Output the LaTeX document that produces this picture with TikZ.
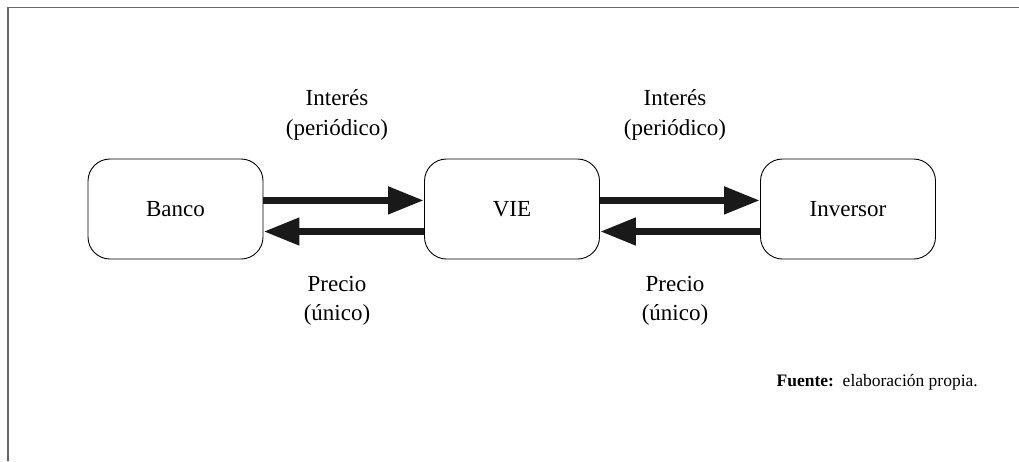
\documentclass[tikz,border=0pt]{standalone}
\usepackage{fontspec}
\setmainfont{Liberation Serif}
\usetikzlibrary{arrows.meta,positioning}

\tikzset{
  actor/.style={draw, line width=0.9pt, rounded corners=22pt,
    minimum width=175pt, minimum height=100pt, inner sep=0pt,
    font=\fontsize{23}{29}\selectfont},
  flow/.style={line width=7.5pt, draw=black!90,
    -{Triangle[length=36pt,width=26pt]}},
  tag/.style={align=center, inner sep=0pt, font=\fontsize{23}{29.5}\selectfont},
  frameline/.style={draw=black!60, line width=1.5pt}
}

\begin{document}
\begin{tikzpicture}[x=1pt,y=-1pt]
  \useasboundingbox (0,0) rectangle (1019,461);
  % frame of the figure
  \draw[frameline] (1019,7.5) -- (8,7.5) -- (8,461);

  \node[actor] (banco) at (175.5,209) {Banco};
  \node[actor] (vie) at (512,209) {VIE};
  \node[actor] (inversor) at (848,209) {Inversor};

  % interest flows (top) and price flows (bottom)
  \draw[flow] ([yshift=8.6pt]banco.east) -- ([yshift=8.6pt]vie.west);
  \draw[flow] ([yshift=-22.5pt]vie.west) -- ([yshift=-22.5pt]banco.east);
  \draw[flow] ([yshift=8.6pt]vie.east) -- ([yshift=8.6pt]inversor.west);
  \draw[flow] ([yshift=-22.5pt]inversor.west) -- ([yshift=-22.5pt]vie.east);

  \node[tag] (int1) at (337,115) {Interés\\(periódico)};
  \node[tag] (pre1) at (337,301) {Precio\\(único)};
  \node[tag] (int2) at (675,115) {Interés\\(periódico)};
  \node[tag] (pre2) at (675,301) {Precio\\(único)};

  \node[anchor=base east, inner sep=0pt, font=\fontsize{17.5}{21}\selectfont]
    (fuente) at (978,386) {\textbf{Fuente:}\ \ elaboración propia.};
\end{tikzpicture}
\end{document}
